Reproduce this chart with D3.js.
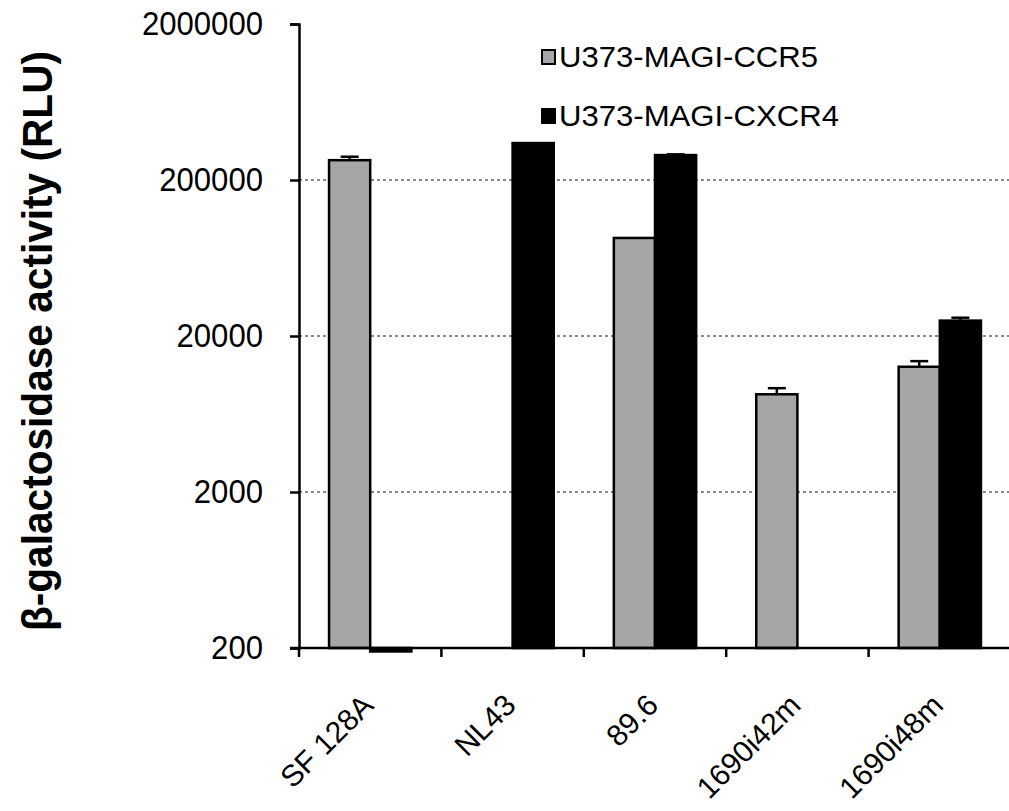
<!DOCTYPE html>
<html><head><meta charset="utf-8">
<script src="https://cdn.jsdelivr.net/npm/d3@7"></script>
<style>body{margin:0;background:#fff}svg{display:block}</style>
</head><body>
<svg id="c" width="1009" height="811"></svg>
<script>
const categories = ["SF 128A", "NL43", "89.6", "1690i42m", "1690i48m"];
const seriesNames = ["U373-MAGI-CCR5", "U373-MAGI-CXCR4"];
const ccr5Values = [268000, null, 85000, 8460, 12700];
const ccr5Errors = [14000, null, 0, 800, 1100];
const cxcr4Values = [190, 345000, 289000, null, 25100];
const cxcr4Errors = [0, 0, 3000, null, 1100];
const yTicks = [200, 2000, 20000, 200000, 2000000];
const gridTicks = [2000, 20000, 200000];
const colors = ["#a6a6a6", "#000000"];

(function () {
const svg = d3.select("#c");
const mLeft = 299, mRight = 1011, mTop = 24, mBottom = 648;
const font = "'Liberation Sans', Arial, sans-serif";

const x = d3.scaleBand().domain(categories).range([mLeft, mRight]).paddingInner(0).paddingOuter(0);
const inner = d3.scaleBand().domain(seriesNames).range([0, x.bandwidth()]).paddingInner(0).paddingOuter(0.73);
const y = d3.scaleLog().domain([200, 2000000]).range([mBottom, mTop]);

// gridlines
svg.append("g").selectAll("line").data(gridTicks).join("line")
  .attr("x1", mLeft).attr("x2", 1009)
  .attr("y1", d => y(d)).attr("y2", d => y(d))
  .attr("stroke", "#8a8a8a").attr("stroke-width", 2).attr("stroke-dasharray", "3,3");

const series = [
  {name: seriesNames[0], vals: ccr5Values, errs: ccr5Errors, color: colors[0]},
  {name: seriesNames[1], vals: cxcr4Values, errs: cxcr4Errors, color: colors[1]}
];

series.forEach(s => {
  const data = categories.map((c, i) => ({c, v: s.vals[i], e: s.errs[i]})).filter(d => d.v != null);
  const g = svg.append("g");
  const cx = d => x(d.c) + inner(s.name) + inner.bandwidth()/2;
  g.selectAll("line.err").data(data.filter(d => d.e > 0)).join("line")
    .attr("x1", cx).attr("x2", cx)
    .attr("y1", d => y(d.v)).attr("y2", d => y(d.v + d.e))
    .attr("stroke", "#000").attr("stroke-width", 2.5);
  g.selectAll("line.cap").data(data.filter(d => d.e > 0)).join("line")
    .attr("x1", d => cx(d) - 9).attr("x2", d => cx(d) + 9)
    .attr("y1", d => y(d.v + d.e)).attr("y2", d => y(d.v + d.e))
    .attr("stroke", "#000").attr("stroke-width", 2.5);
  g.selectAll("rect").data(data).join("rect")
    .attr("x", d => x(d.c) + inner(s.name))
    .attr("width", inner.bandwidth())
    .attr("y", d => Math.min(y(d.v), y(200)))
    .attr("height", d => Math.abs(y(200) - y(d.v)))
    .attr("fill", s.color).attr("stroke", "#000").attr("stroke-width", 2.5);
});

// y axis
const yAxis = d3.axisLeft(y).tickValues(yTicks).tickFormat(d3.format("d")).tickSize(9).tickPadding(27);
const ya = svg.append("g").attr("transform", `translate(${mLeft},0)`).call(yAxis);
ya.select(".domain").attr("stroke", "#000").attr("stroke-width", 2.5);
ya.selectAll(".tick line").attr("stroke", "#000").attr("stroke-width", 2.5);
ya.selectAll(".tick text").attr("font-family", font).attr("font-size", 33).attr("fill", "#000")
  .attr("textLength", d => String(d).length * 17.3).attr("lengthAdjust", "spacingAndGlyphs");

// x axis
const xa = svg.append("g").attr("transform", `translate(0,${mBottom})`);
xa.append("line").attr("x1", mLeft - 9).attr("x2", 1009).attr("y1", 0).attr("y2", 0)
  .attr("stroke", "#000").attr("stroke-width", 2.5);
xa.selectAll("line.t").data(categories).join("line")
  .attr("x1", d => x(d)).attr("x2", d => x(d)).attr("y1", 0).attr("y2", 9)
  .attr("stroke", "#000").attr("stroke-width", 2.5);
xa.selectAll("text").data(categories).join("text")
  .attr("transform", d => `translate(${x(d) + x.bandwidth()/2 + 5},${59}) rotate(-45)`)
  .attr("text-anchor", "end")
  .attr("font-family", font).attr("font-size", 30).attr("fill", "#000")
  .text(d => d);

// y title
svg.append("text")
  .attr("transform", `translate(52,341) rotate(-90)`)
  .attr("text-anchor", "middle")
  .attr("font-family", font).attr("font-weight", "bold").attr("font-size", 43)
  .attr("textLength", 580).attr("lengthAdjust", "spacingAndGlyphs")
  .text("β-galactosidase activity (RLU)");

// legend
const leg = svg.append("g");
series.forEach((s, i) => {
  const ly = 57 + i * 59;
  leg.append("rect").attr("x", 542).attr("y", ly - 7).attr("width", 13).attr("height", 14)
    .attr("fill", s.color).attr("stroke", "#000").attr("stroke-width", 2);
  leg.append("text").attr("x", 559).attr("y", ly).attr("dy", "0.35em")
    .attr("font-family", font).attr("font-size", 29).attr("fill", "#000")
    .attr("textLength", i === 0 ? 259 : 280).attr("lengthAdjust", "spacingAndGlyphs")
    .text(s.name);
});
})();
</script>
</body></html>
